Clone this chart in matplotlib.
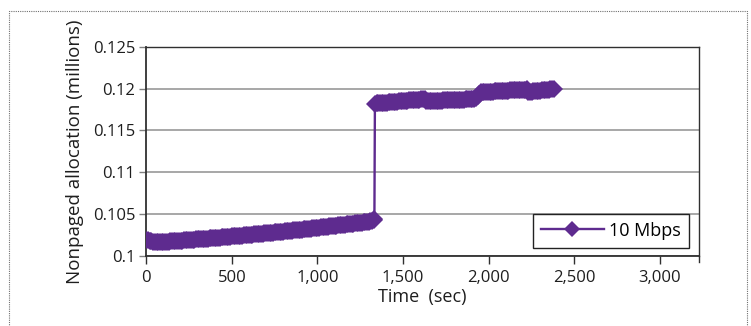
import matplotlib
matplotlib.use("Agg")
import matplotlib.pyplot as plt
from matplotlib.patches import Rectangle

plt.rcParams['font.family'] = ['Open Sans', 'DejaVu Sans']

# ---- data (samples about every 10 s) ----
time_sec = [
    0, 10, 20, 30, 40, 50, 60, 70, 80, 90, 100, 110, 120, 130, 140, 150, 160,
    170, 180, 190, 200, 210, 220, 230, 240, 250, 260, 270, 280, 290, 300, 310,
    320, 330, 340, 350, 360, 370, 380, 390, 400, 410, 420, 430, 440, 450, 460,
    470, 480, 490, 500, 510, 520, 530, 540, 550, 560, 570, 580, 590, 600, 610,
    620, 630, 640, 650, 660, 670, 680, 690, 700, 710, 720, 730, 740, 750, 760,
    770, 780, 790, 800, 810, 820, 830, 840, 850, 860, 870, 880, 890, 900, 910,
    920, 930, 940, 950, 960, 970, 980, 990, 1000, 1010, 1020, 1030, 1040, 1050,
    1060, 1070, 1080, 1090, 1100, 1110, 1120, 1130, 1140, 1150, 1160, 1170,
    1180, 1190, 1200, 1210, 1220, 1230, 1240, 1250, 1260, 1270, 1280, 1290,
    1300, 1310, 1320, 1328, 1333,
    1336, 1346, 1356, 1366, 1376, 1386, 1396, 1406, 1416, 1426, 1436, 1446,
    1456, 1466, 1476, 1486, 1496, 1506, 1516, 1526, 1536, 1546, 1556, 1566,
    1576, 1586, 1596, 1606, 1616, 1626,
    1636, 1646, 1656, 1666, 1676, 1686, 1696, 1706, 1716, 1726, 1736, 1746,
    1756, 1766, 1776, 1786, 1796, 1806, 1816, 1826, 1836, 1846, 1856, 1866,
    1876, 1886, 1896, 1906, 1916, 1926, 1936, 1946, 1956,
    1966, 1976, 1986, 1996, 2006, 2016, 2026, 2036, 2046, 2056, 2066, 2076,
    2086, 2096, 2106, 2116, 2126, 2136, 2146, 2156, 2166, 2176, 2186, 2196,
    2206, 2216, 2226,
    2232, 2242, 2252, 2262, 2272, 2282, 2292, 2302, 2312, 2322, 2332, 2342,
    2352, 2362, 2372, 2381,
]
allocation_millions = [
    0.10189, 0.10183, 0.10178, 0.10174, 0.10170, 0.10167, 0.10164, 0.10163,
    0.10162, 0.101634, 0.101649, 0.101664, 0.101679, 0.101693, 0.101707,
    0.101722, 0.101737, 0.101752, 0.101767, 0.101782, 0.101798, 0.101813,
    0.101829, 0.101845, 0.101861, 0.101876, 0.101892, 0.101908, 0.101925,
    0.101941, 0.101957, 0.101973, 0.101990, 0.102006, 0.102023, 0.102040,
    0.102057, 0.102074, 0.102091, 0.102108, 0.102126, 0.102143, 0.102160,
    0.102178, 0.102196, 0.102213, 0.102231, 0.102249, 0.102267, 0.102285,
    0.102304, 0.102322, 0.102341, 0.102359, 0.102378, 0.102396, 0.102415,
    0.102434, 0.102453, 0.102472, 0.102491, 0.102510, 0.102530, 0.102549,
    0.102569, 0.102588, 0.102608, 0.102628, 0.102648, 0.102668, 0.102688,
    0.102708, 0.102729, 0.102749, 0.102770, 0.102790, 0.102811, 0.102832,
    0.102853, 0.102874, 0.102895, 0.102916, 0.102938, 0.102959, 0.102981,
    0.103002, 0.103024, 0.103045, 0.103067, 0.103089, 0.103111, 0.103133,
    0.103156, 0.103178, 0.103201, 0.103223, 0.103246, 0.103268, 0.103291,
    0.103314, 0.103337, 0.103360, 0.103384, 0.103407, 0.103430, 0.103453,
    0.103477, 0.103501, 0.103525, 0.103549, 0.103573, 0.103597, 0.103621,
    0.103645, 0.103669, 0.103693, 0.103718, 0.103743, 0.103768, 0.103792,
    0.103817, 0.103842, 0.103868, 0.103893, 0.103918, 0.103943, 0.103969,
    0.103994, 0.104020, 0.104046, 0.104072, 0.104098, 0.104124, 0.10425,
    0.10440,
    0.118220, 0.118239, 0.118257, 0.118276, 0.118295, 0.118313, 0.118332,
    0.118351, 0.118369, 0.118388, 0.118407, 0.118426, 0.118444, 0.118463,
    0.118481, 0.118500, 0.118519, 0.118537, 0.118556, 0.118575, 0.118593,
    0.118612, 0.118631, 0.118650, 0.118668, 0.118687, 0.118705, 0.118724,
    0.118743, 0.118761,
    0.118510, 0.118519, 0.118528, 0.118537, 0.118546, 0.118554, 0.118563,
    0.118572, 0.118581, 0.118590, 0.118598, 0.118607, 0.118616, 0.118625,
    0.118634, 0.118642, 0.118651, 0.118660, 0.118669, 0.118678, 0.118686,
    0.118695, 0.118704, 0.118713, 0.118722, 0.118730, 0.118739, 0.118748,
    0.118757, 0.11890, 0.11915, 0.11940, 0.11955,
    0.119580, 0.119593, 0.119606, 0.119619, 0.119632, 0.119646, 0.119659,
    0.119672, 0.119685, 0.119698, 0.119711, 0.119724, 0.119737, 0.119750,
    0.119763, 0.119777, 0.119790, 0.119803, 0.119816, 0.119829, 0.119842,
    0.119855, 0.119868, 0.119881, 0.119894, 0.119907, 0.119920,
    0.119610, 0.119635, 0.119660, 0.119685, 0.119710, 0.119734, 0.119759,
    0.119784, 0.119809, 0.119834, 0.119859, 0.119883, 0.119908, 0.119933,
    0.119958, 0.119980,
]
series_label = "10 Mbps"
x_ticks = [0, 500, 1000, 1500, 2000, 2500, 3000]
x_tick_labels = ["0", "500", "1,000", "1,500", "2,000", "2,500", "3,000"]
y_ticks = [0.1, 0.105, 0.11, 0.115, 0.12, 0.125]
y_tick_labels = ["0.1", "0.105", "0.11", "0.115", "0.12", "0.125"]

PURPLE = "#5e2b8f"
TEXT = "#1e1e1e"

fig = plt.figure(figsize=(7.51, 3.26), dpi=100)
fig.patch.set_facecolor("white")

# dotted outer frame
fig.add_artist(Rectangle((8.5 / 751, -0.05), (746.5 - 8.5) / 751, 1.05 - 10.7 / 326,
                         transform=fig.transFigure, fill=False,
                         edgecolor="#707070", linestyle=(0, (1, 1)), linewidth=0.8))

ax = fig.add_axes([146.3 / 751, (326 - 255.7) / 326, (699 - 146.3) / 751, (255.7 - 47) / 326])

ax.plot(time_sec, allocation_millions, color=PURPLE, linewidth=1.7,
        marker="D", markersize=9.6, markeredgewidth=0, markerfacecolor=PURPLE,
        label=series_label, zorder=3, snap=False)

ax.set_xlim(0, 3230)
ax.set_ylim(0.1, 0.125)
ax.set_xticks(x_ticks)
ax.set_xticklabels(x_tick_labels)
ax.set_yticks(y_ticks)
ax.set_yticklabels(y_tick_labels)

ax.yaxis.grid(True, color="#a0a0a0", linewidth=1.3)
ax.set_axisbelow(True)

for s in ax.spines.values():
    s.set_color("#303030")
    s.set_linewidth(1.0)
ax.spines['left'].set_linewidth(1.3)
ax.spines['bottom'].set_linewidth(1.3)

ax.tick_params(axis="x", direction="out", length=6, width=1.0, color="#303030",
               labelsize=12, pad=4, labelcolor=TEXT)
ax.tick_params(axis="y", direction="out", length=5, width=1.0, color="#808080",
               labelsize=12, pad=3, labelcolor=TEXT)

ax.set_xlabel("Time  (sec)", fontsize=13, color=TEXT, labelpad=2)
ax.set_ylabel("Nonpaged allocation (millions)", fontsize=13.5, color=TEXT, labelpad=6)

# extra tick at right end of x axis (plot area border)
ax.plot([1, 1], [0, -0.028], transform=ax.transAxes, color="#303030",
        linewidth=1.0, clip_on=False)

leg = ax.legend(loc="lower right", bbox_to_anchor=(0.9825, 0.038), frameon=True,
                fancybox=False, framealpha=1, edgecolor="#222222", fontsize=13,
                handlelength=3.5, handletextpad=0.3, borderpad=0.45,
                borderaxespad=0)
leg.get_frame().set_linewidth(1.0)
for h in leg.legend_handles:
    h.set_markersize(8.5)

fig.savefig("out.png", dpi=100, facecolor="white")
